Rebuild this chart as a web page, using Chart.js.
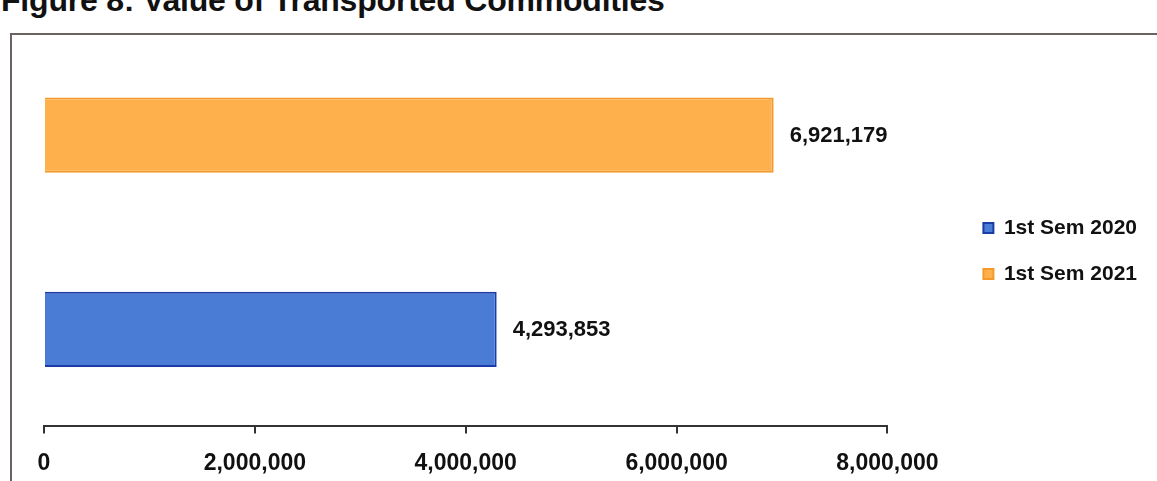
<!DOCTYPE html>
<html>
<head>
<meta charset="utf-8">
<script src="https://cdn.jsdelivr.net/npm/chart.js@4"></script>
<style>
  html, body { margin: 0; padding: 0; background: #fff; overflow: hidden; }
  body { width: 1157px; height: 481px; position: relative; }
  #title {
    position: absolute; left: 1px; top: -18px; line-height: 1;
    font: bold 32px "Liberation Sans", Arial, sans-serif; color: #111;
    white-space: nowrap; letter-spacing: -0.2px;
  }
  #frame {
    position: absolute; left: 10px; top: 33px; width: 1160px; height: 470px;
    border-left: 2px solid #6b6262; border-top: 2px solid #6b6262;
  }
  #wrap { position: absolute; left: 10px; top: 33px; width: 1147px; height: 460px; }
</style>
</head>
<body>
<div id="title">Figure 8: Value of Transported Commodities</div>
<div id="frame"></div>
<div id="wrap"><canvas id="grafico"></canvas></div>
<script>
// datos
const categorias = ["Value"];
const series = ["1st Sem 2021", "1st Sem 2020"];
const valores2021 = [6921179];
const valores2020 = [4293853];
const ticksX = [0, 2000000, 4000000, 6000000, 8000000];

const fmt = n => n.toLocaleString("en-US");

// etiquetas al final de cada barra
const etiquetas = {
    id: "etiquetas",
    afterDatasetsDraw(chart) {
        const ctx = chart.ctx;
        ctx.save();
        ctx.font = "bold 22px 'Liberation Sans', Arial, sans-serif";
        ctx.fillStyle = "#111";
        ctx.textBaseline = "middle";
        chart.data.datasets.forEach((ds, i) => {
            chart.getDatasetMeta(i).data.forEach((bar, j) => {
                ctx.fillText(fmt(ds.data[j]), bar.x + 16, bar.y + 1);
            });
        });
        ctx.restore();
    }
};

const ctx = document.getElementById("grafico").getContext("2d");

const myChart = new Chart(ctx, {
    type: "bar",
    data: {
        labels: categorias,
        datasets: [{
            label: series[0],
            data: valores2021,
            backgroundColor: "#fdb04c",
            borderColor: "#f39a2a",
            borderWidth: 2
        }, {
            label: series[1],
            data: valores2020,
            backgroundColor: "#4a7bd5",
            borderColor: "#1a3ca8",
            borderWidth: 2
        }]
    },
    options: {
        indexAxis: "y",
        responsive: true,
        maintainAspectRatio: false,
        animation: false,
        layout: { padding: { top: 5, left: 34, right: 10, bottom: 0 } },
        datasets: { bar: { categoryPercentage: 1.0, barPercentage: 0.387 } },
        plugins: {
            title: { display: false },
            tooltip: { enabled: false },
            legend: {
                position: "right",
                align: "start",
                reverse: true,
                title: { display: true, text: "", padding: { top: 140, bottom: 0 } },
                labels: {
                    boxWidth: 10,
                    boxHeight: 10,
                    padding: 25,
                    color: "#111",
                    font: { family: "'Liberation Sans', Arial, sans-serif", size: 21, weight: "bold" }
                }
            }
        },
        scales: {
            x: {
                min: 0,
                max: 8000000,
                afterBuildTicks: axis => { axis.ticks = ticksX.map(v => ({ value: v })); },
                grid: { drawOnChartArea: false, drawTicks: true, tickLength: 7, color: "#333", lineWidth: 2 },
                border: { display: true, color: "#333", width: 2 },
                ticks: {
                    padding: 16,
                    color: "#111",
                    maxRotation: 0,
                    font: { family: "'Liberation Sans', Arial, sans-serif", size: 23, weight: "bold" },
                    callback: v => fmt(v)
                }
            },
            y: {
                // eje oculto a la derecha, solo para dejar espacio antes de la leyenda
                position: "right",
                display: true,
                grid: { display: false },
                border: { display: false },
                ticks: { display: false },
                afterFit: axis => { axis.width = 71; }
            }
        }
    },
    plugins: [etiquetas]
});
</script>
</body>
</html>
